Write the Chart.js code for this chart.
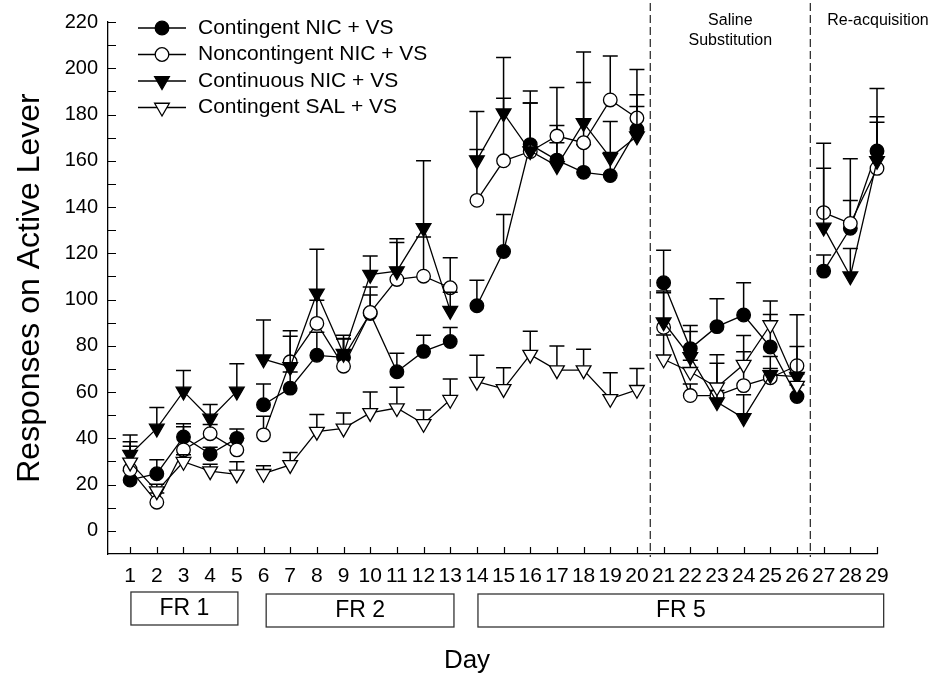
<!DOCTYPE html>
<html lang="en">
<head>
<meta charset="UTF-8">
<title>Responses on Active Lever</title>
<style>
    html, body { margin: 0; padding: 0; background: #fff; }
    #wrap { width: 937px; height: 683px; }
</style>
</head>
<body>
<div id="wrap"><canvas id="myChart" width="937" height="683"></canvas></div>

<script src="https://cdn.jsdelivr.net/npm/chart.js@4.4.0/dist/chart.umd.min.js"></script>
<script>
// sessions
var days = [1, 2, 3, 4, 5, 6, 7, 8, 9, 10, 11, 12, 13, 14, 15, 16, 17, 18, 19, 20, 21, 22, 23, 24, 25, 26, 27, 28, 29];
// no line is drawn from these days to the next one
var phaseEnds = [5, 13, 20, 26];
var yTicks = [0, 10, 20, 30, 40, 50, 60, 70, 80, 90, 100, 110, 120, 130, 140, 150, 160, 170, 180, 190, 200, 210, 220];

// mean and SEM (upper bar only)
var nicMean = [22, 24.7, 40.6, 33.2, 40, 54.5, 61.7, 75.9, 75, 94, 68.8, 77.6, 81.9, 97.3, 120.8, 167, 160.3, 155, 153.6, 173.5, 107.3, 78.8, 88.3, 93.3, 79.5, 58.1, 112.3, 130.8, 164.2];
var nicErr  = [4, 6, 5.7, 3, 4, 9, 7, 10, 8, 8, 8, 7, 6, 11, 16, 18, 15, 12, 10, 10, 14, 10, 12, 14, 14, 5, 7, 12, 27];

var nonMean = [26.5, 12.4, 35, 42, 35, 41.5, 73.1, 89.7, 71.2, 94.4, 108.7, 110.1, 105.1, 142.9, 160, 164, 170.7, 167.8, 186.3, 178.5, 88, 58.5, 58.5, 62.8, 66.2, 71.4, 137.6, 132.9, 156.7];
var nonErr  = [12, 4, 10, 4, 5, 8, 11, 10, 12, 11, 16, 17, 13, 22, 27, 21, 21, 26, 19, 21, 15, 5, 14, 14.6, 4, 22, 30, 28, 20];

var conMean = [33, 44.3, 60.3, 48.6, 60.3, 74.2, 70.9, 102.7, 76.6, 110.8, 112.3, 131, 95.2, 160.3, 180.6, 164.2, 157.8, 176.4, 161.4, 170.6, 90.2, 75.2, 55.7, 48.8, 67.4, 66.7, 131.2, 110.1, 160];
var conErr  = [8.4, 9, 9, 6, 12, 17, 15.6, 19, 8, 8, 14, 29, 8, 21, 24, 26, 10, 30.6, 15.6, 18, 13.5, 11, 5, 10, 8, 13, 25.6, 12, 19];

var salMean = [29.6, 17.2, 29.9, 25.8, 24.4, 24.7, 28.5, 42.9, 44.3, 51, 53.1, 46.3, 56.7, 64.5, 61.4, 76.2, 69.5, 69.5, 57.1, 61, 74.2, 68.8, 62.1, 71.9, 89, 62.8, null, null, null];
var salErr  = [7, 3, 3, 3, 5.5, 3.5, 5.4, 7.4, 6.7, 9, 9, 6, 9, 11.4, 9.1, 10.1, 10.4, 9, 11.3, 9.2, 10.5, 5, 14, 12.6, 10.4, 5, null, null, null];

var FONT = "'Liberation Sans', Arial, sans-serif";

// points with a null after each phase so the line breaks there
function f_points(p_mean, p_err) {
    var v_out = [];
    for (var i = 0; i < days.length; i++) {
        v_out.push({x: days[i], y: p_mean[i], e: p_err[i]});
        if (phaseEnds.indexOf(days[i]) >= 0) {
            v_out.push({x: days[i] + 0.5, y: null, e: null});
        }
    }
    return v_out;
}

function f_series(p_label, p_mean, p_err, p_style, p_fill, p_order) {
    var v_tri = p_style == 'triangle';
    return {
        label: p_label,
        data: f_points(p_mean, p_err),
        borderColor: '#000',
        borderWidth: 1.3,
        backgroundColor: p_fill,
        pointStyle: p_style,
        pointRotation: v_tri ? 180 : 0,
        pointRadius: v_tri ? 8.5 : 6.8,
        pointBorderWidth: 1.3,
        pointBorderColor: '#000',
        pointBackgroundColor: p_fill,
        tension: 0,
        spanGaps: false,
        clip: false,
        order: p_order
    };
}

var errorBars = {
    id: 'errorBars',
    beforeDatasetDraw: function(chart, args) {
        var v_ds = chart.data.datasets[args.index];
        var v_y = chart.scales.y;
        var c = chart.ctx;
        c.save();
        c.strokeStyle = '#000';
        c.lineWidth = 1.5;
        args.meta.data.forEach(function(pt, i) {
            var v_raw = v_ds.data[i];
            if (v_raw.y === null || !v_raw.e) return;
            var v_top = v_y.getPixelForValue(v_raw.y + v_raw.e);
            c.beginPath();
            c.moveTo(pt.x, pt.y);
            c.lineTo(pt.x, v_top);
            c.moveTo(pt.x - 7.5, v_top);
            c.lineTo(pt.x + 7.5, v_top);
            c.stroke();
        });
        c.restore();
    }
};

var decorations = {
    id: 'decorations',
    afterDraw: function(chart) {
        var c = chart.ctx;
        var x = chart.scales.x, y = chart.scales.y, a = chart.chartArea;
        c.save();

        // inward tick marks
        c.strokeStyle = '#000';
        c.lineWidth = 1.2;
        c.beginPath();
        x.ticks.forEach(function(t) {
            var px = Math.round(x.getPixelForValue(t.value)) + 0.5;
            c.moveTo(px, a.bottom);
            c.lineTo(px, a.bottom - 7);
        });
        y.ticks.forEach(function(t) {
            var py = Math.round(y.getPixelForValue(t.value)) + 0.5;
            c.moveTo(a.left, py);
            c.lineTo(a.left + 8, py);
        });
        c.stroke();

        // phase separators
        var v_s1 = x.getPixelForValue(20.5), v_s2 = x.getPixelForValue(26.5);
        c.strokeStyle = '#222';
        c.lineWidth = 1.2;
        c.setLineDash([8, 4]);
        c.beginPath();
        c.moveTo(v_s1, 3); c.lineTo(v_s1, a.bottom + 3);
        c.moveTo(v_s2, 3); c.lineTo(v_s2, a.bottom + 3);
        c.stroke();
        c.setLineDash([]);

        c.fillStyle = '#000';
        c.font = '16px ' + FONT;
        c.textBaseline = 'middle';
        c.textAlign = 'center';
        c.fillText('Saline', (v_s1 + v_s2) / 2, 21);
        c.fillText('Substitution', (v_s1 + v_s2) / 2, 41);
        c.textAlign = 'left';
        c.fillText('Re-acquisition', v_s2 + 17, 21);

        // schedule boxes under the axis
        var v_boxes = [['FR 1', 1.03, 5.04, 592], ['FR 2', 6.1, 13.14, 594], ['FR 5', 14.04, 29.25, 594]];
        c.strokeStyle = '#333';
        c.lineWidth = 1.3;
        c.font = '23px ' + FONT;
        c.textAlign = 'center';
        v_boxes.forEach(function(b) {
            var x0 = x.getPixelForValue(b[1]), x1 = x.getPixelForValue(b[2]);
            c.strokeRect(x0, b[3], x1 - x0, 33);
            c.fillText(b[0], (x0 + x1) / 2, b[3] + 17);
        });

        // axis title, centred on the page
        c.font = '26px ' + FONT;
        c.fillText('Day', 467, 661);

        // legend
        var v_rowY = [28, 54.5, 81, 107.5];
        c.font = '21px ' + FONT;
        c.textAlign = 'left';
        chart.data.datasets.forEach(function(ds, i) {
            var ly = v_rowY[i];
            c.strokeStyle = '#000';
            c.lineWidth = 1.3;
            c.beginPath();
            c.moveTo(138, ly); c.lineTo(186, ly);
            c.stroke();
            c.fillStyle = ds.pointBackgroundColor;
            Chart.helpers.drawPoint(c, {
                pointStyle: ds.pointStyle,
                rotation: ds.pointRotation,
                radius: ds.pointRadius,
                borderWidth: 1.3
            }, 162, ly);
            c.fillStyle = '#000';
            c.fillText(ds.label, 198, ly);
        });
        c.restore();
    }
};

const ctx = document.getElementById('myChart').getContext('2d');
const myChart = new Chart(ctx, {
    type: 'line',
    data: {
        datasets: [
            f_series('Contingent NIC + VS', nicMean, nicErr, 'circle', '#000', 4),
            f_series('Noncontingent NIC + VS', nonMean, nonErr, 'circle', '#fff', 3),
            f_series('Continuous NIC + VS', conMean, conErr, 'triangle', '#000', 2),
            f_series('Contingent SAL + VS', salMean, salErr, 'triangle', '#fff', 1)
        ]
    },
    options: {
        responsive: false,
        animation: false,
        layout: { padding: { top: 16, right: 60, bottom: 0, left: 0 } },
        plugins: {
            legend: { display: false },
            tooltip: { enabled: false }
        },
        scales: {
            x: {
                type: 'linear',
                min: 0.17,
                max: 29,
                grid: { display: false, drawTicks: false },
                border: { display: true, color: '#000', width: 1.3 },
                afterBuildTicks: function(scale) {
                    scale.ticks = days.map(function(d) { return {value: d}; });
                },
                afterFit: function(scale) { scale.height = 129; },
                ticks: {
                    autoSkip: false,
                    maxRotation: 0,
                    padding: 10,
                    color: '#000',
                    font: { family: FONT, size: 21 }
                }
            },
            y: {
                min: -10,
                max: 220,
                grid: { display: false, drawTicks: false },
                border: { display: true, color: '#000', width: 1.3 },
                afterBuildTicks: function(scale) {
                    scale.ticks = yTicks.map(function(v) { return {value: v}; });
                },
                afterFit: function(scale) { scale.width = 108; },
                ticks: {
                    autoSkip: false,
                    padding: 10,
                    color: '#000',
                    font: { family: FONT, size: 20 },
                    callback: function(v) { return v % 20 == 0 ? v : ''; }
                },
                title: {
                    display: true,
                    text: 'Responses on Active Lever',
                    color: '#000',
                    font: { family: FONT, size: 32 },
                    padding: { top: 11, bottom: 0 }
                }
            }
        }
    },
    plugins: [errorBars, decorations]
});
</script>
</body>
</html>
